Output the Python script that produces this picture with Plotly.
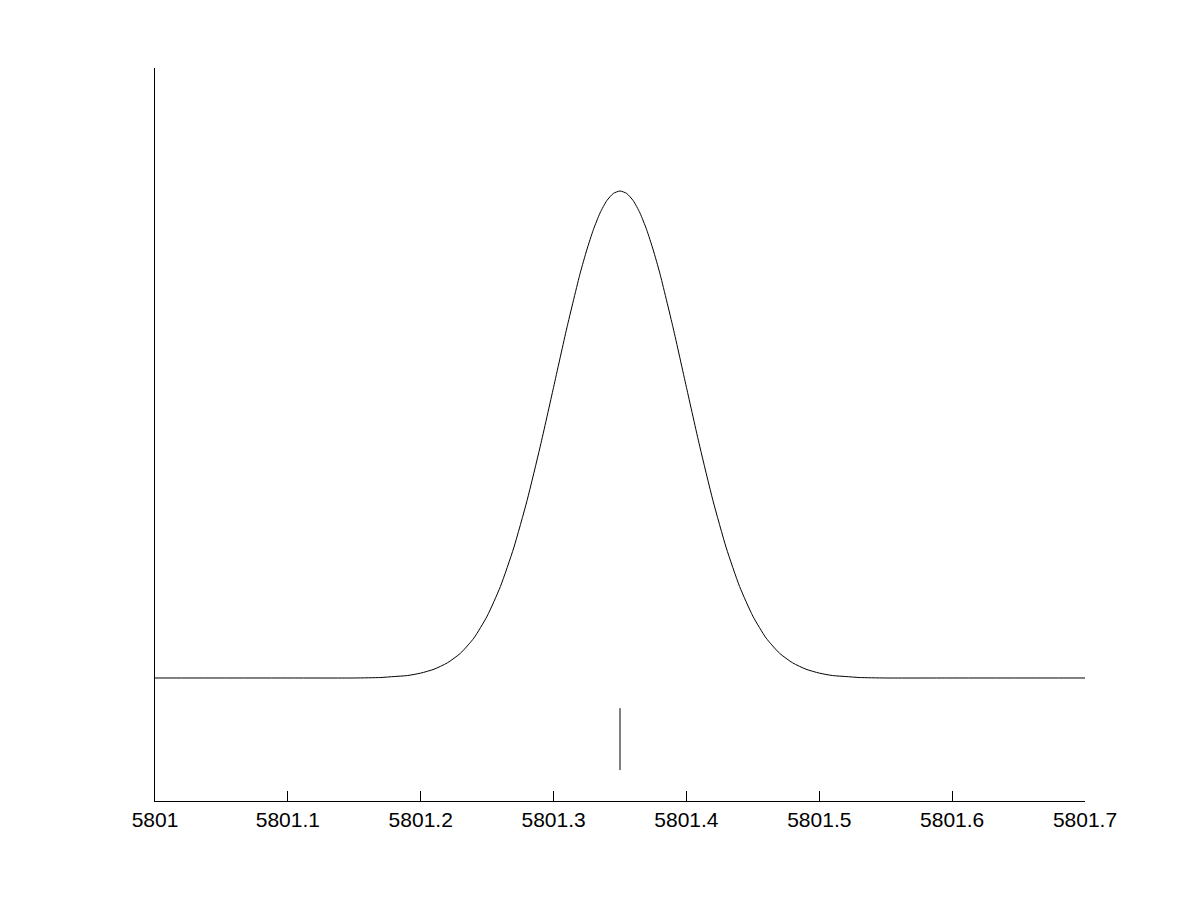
import plotly.graph_objects as go

# Line profile (wavelength, relative flux above continuum)
wavelength = [5801.00, 5801.10, 5801.15, 5801.17, 5801.18, 5801.19, 5801.20,
              5801.21, 5801.22, 5801.23, 5801.24, 5801.25, 5801.26, 5801.27,
              5801.28, 5801.29, 5801.30, 5801.31, 5801.32, 5801.325, 5801.33,
              5801.335, 5801.34, 5801.345, 5801.35, 5801.355, 5801.36,
              5801.365, 5801.37, 5801.375, 5801.38, 5801.39, 5801.40, 5801.41,
              5801.42, 5801.43, 5801.44, 5801.45, 5801.46, 5801.47, 5801.48,
              5801.49, 5801.50, 5801.51, 5801.52, 5801.53, 5801.55, 5801.60,
              5801.70]
flux = [0.000, 0.000, 0.000, 0.001, 0.003, 0.005, 0.010,
        0.018, 0.031, 0.051, 0.082, 0.127, 0.188, 0.267,
        0.364, 0.476, 0.597, 0.719, 0.831, 0.879, 0.921,
        0.955, 0.980, 0.995, 1.000, 0.995, 0.980,
        0.955, 0.921, 0.879, 0.831, 0.719, 0.597, 0.476,
        0.364, 0.267, 0.188, 0.127, 0.082, 0.051, 0.031,
        0.018, 0.010, 0.005, 0.003, 0.001, 0.000, 0.000,
        0.000]

# Line position marker
marker_x = [5801.35, 5801.35]
marker_y = [-0.062, -0.189]

x_ticks = [5801.0, 5801.1, 5801.2, 5801.3, 5801.4, 5801.5, 5801.6, 5801.7]
x_tick_labels = ["5801", "5801.1", "5801.2", "5801.3", "5801.4", "5801.5",
                 "5801.6", "5801.7"]

fig = go.Figure()
fig.add_trace(go.Scatter(x=wavelength, y=flux, mode="lines",
                         line=dict(color="black", width=1, shape="spline",
                                   smoothing=0.6),
                         showlegend=False, hoverinfo="skip"))
fig.add_trace(go.Scatter(x=marker_x, y=marker_y, mode="lines",
                         line=dict(color="black", width=1),
                         showlegend=False, hoverinfo="skip"))

fig.update_layout(
    width=1200, height=900,
    margin=dict(l=147, r=123, t=60, b=107),
    paper_bgcolor="white", plot_bgcolor="white",
    font=dict(family="Liberation Sans, Arial, sans-serif", size=21,
              color="black"),
    xaxis=dict(range=[5801.0, 5801.7], tickvals=x_ticks,
               ticktext=x_tick_labels, ticks="inside", ticklen=10,
               tickwidth=1, tickcolor="black", showline=True,
               linecolor="black", linewidth=1, showgrid=False,
               zeroline=False, mirror=False),
    yaxis=dict(range=[-0.2526, 1.2526], showticklabels=False, ticks="",
               showline=True, linecolor="black", linewidth=1,
               showgrid=False, zeroline=False),
)

fig.write_html("out.html")
